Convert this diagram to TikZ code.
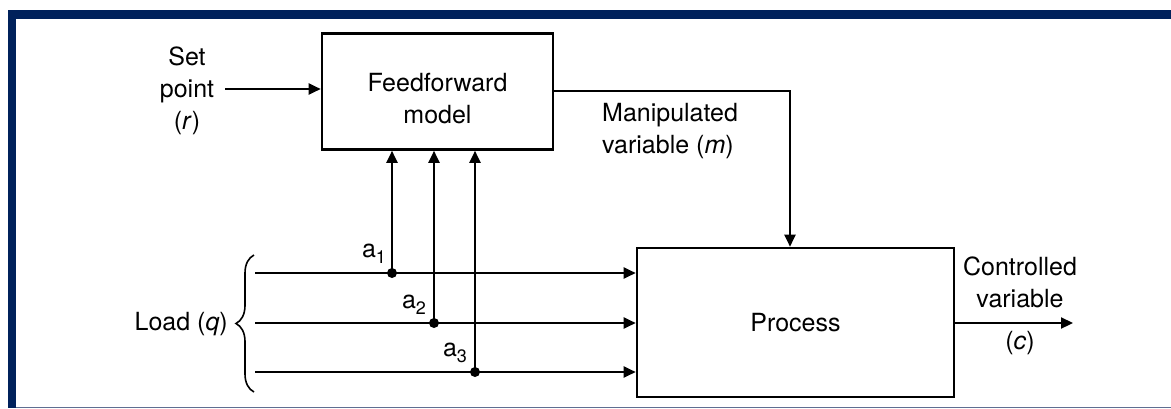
\documentclass[tikz,border=0pt]{standalone}
\usepackage{fontspec}
\setmainfont{TeX Gyre Heros}
\usetikzlibrary{arrows.meta,decorations.pathreplacing}
\definecolor{navy}{RGB}{0,33,91}
\definecolor{edgeline}{RGB}{95,110,145}
\newcommand{\lsub}[1]{\raisebox{-0.45ex}{\fontsize{18}{18}\selectfont #1}}
\begin{document}
\begin{tikzpicture}[x=1pt,y=-1pt,
  lbl/.style={font=\fontsize{25}{32}\selectfont, inner sep=0pt, align=center},
  blockbox/.style={draw, line width=2.6pt, inner sep=0pt},
  arr/.style={line width=2.2pt, -{Triangle[length=12pt,width=11pt]}},
  dot/.style={circle, fill=black, inner sep=0pt, minimum size=10pt}
]
\useasboundingbox (0,0) rectangle (1171,408);
\fill[white] (0,0) rectangle (1171,408);
% frame
\fill[navy] (8,10) rectangle (1171,18.5);
\fill[navy] (7.5,10) rectangle (15.5,408);
\draw[edgeline, line width=1pt] (15.5,407.3) -- (1171,407.3);

% blocks
\node[blockbox, minimum width=231pt, minimum height=116pt] (ff) at (437.5,91.5) {};
\node[lbl] (fftext) at (437.5,99) {Feedforward\\model};
\node[blockbox, minimum width=317pt, minimum height=149pt] (proc) at (795.5,322.5) {};
\node[lbl] (proctext) at (795.5,323) {Process};

% set point
\node[lbl] (sp) at (187,91) {Set\\point\\(\textit{r})};
\coordinate (spstart) at (225,89);
\draw[arr] (spstart) -- (spstart -| ff.west);

% manipulated variable
\coordinate (mcorner) at (790,91);
\draw[arr] (ff.east |- mcorner) -- (mcorner) -- (mcorner |- proc.north);
\node[lbl, align=left, anchor=west] (mtext) at (602,131) {Manipulated\\variable (\textit{m})};

% controlled variable
\coordinate (cend) at (1073,323);
\draw[arr] (proc.east |- cend) -- (cend);
\node[lbl] (ctext) at (1020,282) {Controlled\\variable};
\node[lbl] (cvar) at (1020,343) {(\textit{c})};

% load lines
\coordinate (l1) at (255,273);
\coordinate (l2) at (255,323);
\coordinate (l3) at (255,372);
\draw[arr] (l1) -- (l1 -| proc.west);
\draw[arr] (l2) -- (l2 -| proc.west);
\draw[arr] (l3) -- (l3 -| proc.west);

% take-off points
\node[dot] (d1) at (392,273) {};
\node[dot] (d2) at (434,323) {};
\node[dot] (d3) at (475,372) {};
\draw[arr] (d1.center) -- (d1 |- ff.south);
\draw[arr] (d2.center) -- (d2 |- ff.south);
\draw[arr] (d3.center) -- (d3 |- ff.south);
\node[lbl] (a1) at (374,254) {a\lsub{1}};
\node[lbl] (a2) at (414,305) {a\lsub{2}};
\node[lbl] (a3) at (455,353) {a\lsub{3}};

% brace and load label
\coordinate (bbot) at (254,392);
\coordinate (btop) at (254,255);
\draw[line width=1.6pt, decorate, decoration={brace, amplitude=18pt}] (bbot) -- (btop);
\node[lbl, anchor=east] (load) at (228,324) {Load (\textit{q})};
\end{tikzpicture}
\end{document}
